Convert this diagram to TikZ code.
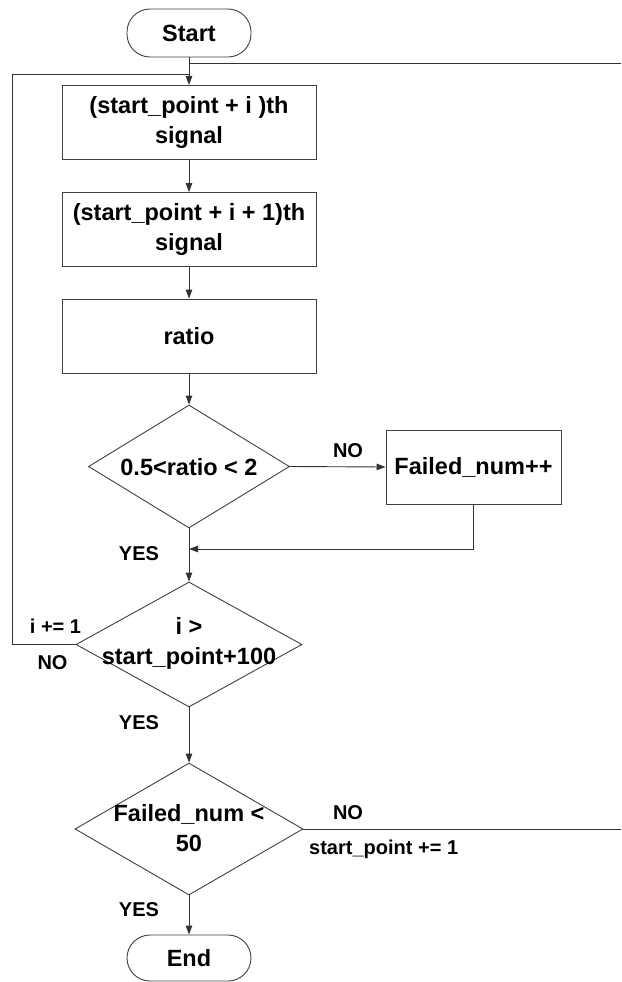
\documentclass[tikz,border=0pt]{standalone}
\usepackage{fontspec}
\setmainfont{Liberation Sans}
\usetikzlibrary{shapes.geometric,arrows.meta}
\begin{document}
\begin{tikzpicture}[x=1pt,y=-1pt,
  line/.style={draw=black!80,line width=0.9pt},
  arr/.style={line,-{Triangle[length=9pt,width=6.5pt]}},
  bigfont/.style={font=\fontsize{23.5}{30}\selectfont\bfseries},
  proc/.style={draw=black!75,line width=0.9pt,rectangle,minimum width=254pt,minimum height=74pt,inner sep=0pt,align=center,bigfont},
  term/.style={draw=black!75,line width=0.9pt,rectangle,rounded corners=23pt,minimum width=124pt,minimum height=48pt,inner sep=0pt,bigfont},
  dia/.style={draw=black!75,line width=0.9pt,diamond,inner sep=0pt},
  maintext/.style={align=center,inner sep=0pt,bigfont},
  lab/.style={font=\fontsize{20}{24}\selectfont\bfseries,inner sep=0pt}
]
\useasboundingbox (0,0) rectangle (621,982);

% nodes
\node[term] (start) at (189,33) {Start};
\node[proc] (b1) at (189,122.5) {(start\_point + i )th\\signal};
\node[proc] (b2) at (189,229.5) {(start\_point + i + 1)th\\signal};
\node[proc] (b3) at (189,336) {ratio};
\node[dia,minimum width=201pt,minimum height=123pt] (d1) at (189,466.5) {};
\node[maintext] (d1t) at (189,467) {0.5<ratio < 2};
\node[proc,minimum width=175pt,minimum height=74pt] (fail) at (473.5,467) {Failed\_num++};
\node[dia,minimum width=226pt,minimum height=125pt] (d2) at (189,644.5) {};
\node[maintext] (d2t) at (189,643) {i >\\start\_point+100};
\node[dia,minimum width=228pt,minimum height=132pt] (d3) at (189,829) {};
\node[maintext] (d3t) at (189,828) {Failed\_num <\\50};
\node[term,minimum height=46pt] (end) at (189,958) {End};

% coordinates
\coordinate (jtop) at (189,63);
\coordinate (rtop) at (621,63);
\coordinate (loopin) at (189,74);
\coordinate (lx) at (12,644.5);
\coordinate (merge) at (189,549);
\coordinate (fcorner) at (473.5,549);
\coordinate (rbot) at (621,829);

% connectors
\draw[arr] (start.south) -- (b1.north);
\draw[line] (jtop) -- (rtop);
\draw[line] (d2.west) -- (lx) |- (loopin);
\draw[arr] (b1.south) -- (b2.north);
\draw[arr] (b2.south) -- (b3.north);
\draw[arr] (b3.south) -- (d1.north);
\draw[arr] (d1.east) -- (fail.west);
\draw[line] (fail.south) -- (fcorner);
\draw[arr] (fcorner) -- (merge);
\draw[arr] (d1.south) -- (d2.north);
\draw[arr] (d2.south) -- (d3.north);
\draw[arr] (d3.south) -- (end.north);
\draw[line] (d3.east) -- (rbot);

% labels
\node[lab] (no1) at (348,451) {NO};
\node[lab] (yes1) at (139,554) {YES};
\node[lab] (inc) at (55.5,626) {i += 1};
\node[lab] (no2) at (52.5,663) {NO};
\node[lab] (yes2) at (139,723) {YES};
\node[lab] (no3) at (348,813) {NO};
\node[lab,anchor=west] (spinc) at (309,849) {start\_point += 1};
\node[lab] (yes3) at (139,910) {YES};
\end{tikzpicture}
\end{document}
